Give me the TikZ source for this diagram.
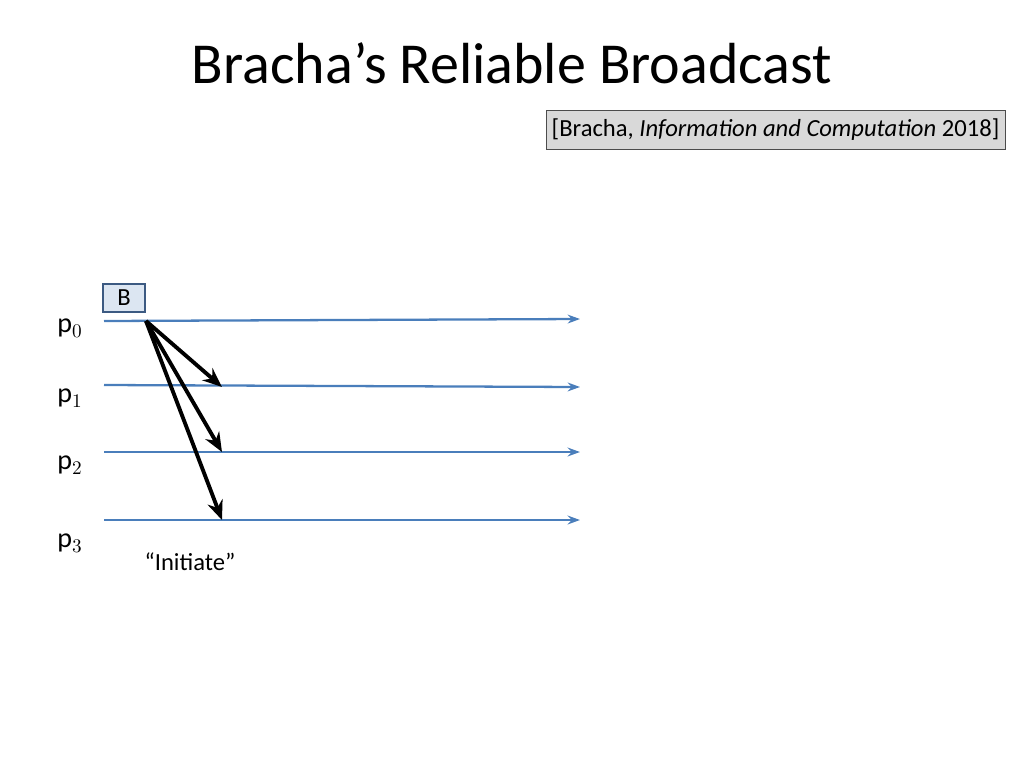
\documentclass[tikz,border=0pt]{standalone}
\usepackage{fontspec}
\setmainfont{Carlito}
\usetikzlibrary{arrows.meta}
\definecolor{lineblue}{RGB}{74,126,187}
\definecolor{boxblue}{RGB}{220,230,242}
\definecolor{boxline}{RGB}{60,90,130}
\definecolor{citegray}{RGB}{217,217,217}
\tikzset{
  procline/.style={lineblue, line width=1.3pt, -{Stealth[length=7pt,width=5pt]}},
  msg/.style={black, line width=2.2pt, -{Stealth[length=11pt,width=9pt]}},
  proclabel/.style={font=\fontsize{16}{18}\selectfont, anchor=center},
}
\begin{document}
\begin{tikzpicture}[x=0.02cm,y=-0.02cm]
	\useasboundingbox (0,0) rectangle (1024,768);
	\node (title) at (512,63) {\fontsize{33}{38}\selectfont Bracha’s Reliable Broadcast};
	\node [draw=black!70, fill=citegray, minimum width=445*0.02cm, minimum height=39*0.02cm,
	  font=\fontsize{14}{16}\selectfont] (cite) at (775.5,129.5) {[Bracha, \textit{Information and Computation} 2018]};

	% process lines
	\coordinate (s0) at (104,321); \coordinate (e0) at (580,319);
	\coordinate (s1) at (104,385); \coordinate (e1) at (580,387);
	\coordinate (s2) at (104,452); \coordinate (e2) at (580,452);
	\coordinate (s3) at (104,520); \coordinate (e3) at (580,520);
	\foreach \i in {0,...,3}
		\draw [procline] (s\i) -- (e\i);
	\node [proclabel] (p0) at (70,328) {p$_0$};
	\node [proclabel] (p1) at (70,398) {p$_1$};
	\node [proclabel] (p2) at (70,465) {p$_2$};
	\node [proclabel] (p3) at (70,543) {p$_3$};

	\node [draw=boxline, line width=1.5pt, fill=boxblue, minimum width=42*0.02cm, minimum height=28*0.02cm,
	  inner sep=0pt, font=\fontsize{14}{16}\selectfont] (bcast) at (124,298) {B};

	% initial messages
	\coordinate (src) at (146,321);
	\coordinate (r1) at (222,387);
	\coordinate (r2) at (222,452);
	\coordinate (r3) at (222,520);
	\foreach \i in {1,2,3}
		\draw [msg] (src) -- (r\i);
	\node [font=\fontsize{14}{16}\selectfont] (init) at (190,562) {“Initiate”};
\end{tikzpicture}
\end{document}
